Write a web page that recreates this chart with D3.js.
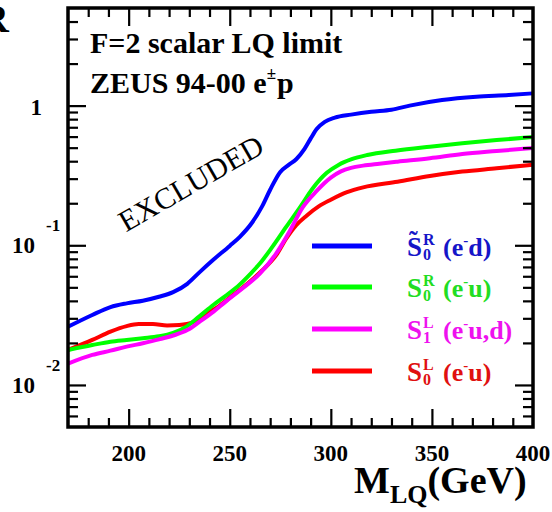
<!DOCTYPE html>
<html><head><meta charset="utf-8">
<script src="https://cdn.jsdelivr.net/npm/d3@7"></script>
<style>
html,body{margin:0;padding:0;background:#fff;}
svg{display:block;}
text{font-family:"Liberation Serif","Times New Roman",serif;}
</style></head>
<body>
<svg id="chart" width="552" height="512"></svg>
<script>
// ---- data ----
const xDomain = [170, 400];
const yDomain = [0.005, 5];
const xMajorTicks = [200, 250, 300, 350, 400];
const yMajorTicks = [0.01, 0.1, 1];
const yTickLabels = [["10", "-2"], ["10", "-1"], ["1", ""]];

const seriesColors = ["#0000ff", "#00ff00", "#ff00ff", "#ff0000"];

const blueS0Rtilde = [[170,0.0261],[182,0.0317],[191,0.0361],[199,0.0384],[207,0.0401],[215,0.0428],[222,0.0462],[229,0.053],[235,0.064],[242,0.079],[250,0.099],[255,0.115],[261,0.145],[266,0.19],[270,0.25],[275,0.335],[279,0.375],[283,0.415],[287,0.49],[290,0.58],[293,0.68],[297,0.765],[302,0.82],[310,0.862],[320,0.905],[330,0.935],[339,1.0],[355,1.096],[372,1.158],[388,1.19],[400,1.224]];
const greenS0R = [[170,0.0178],[182,0.0193],[191,0.0204],[199,0.0210],[207,0.0216],[215,0.0223],[222,0.0236],[229,0.0264],[235,0.031],[242,0.0375],[248,0.0435],[255,0.0525],[260,0.062],[265,0.0743],[271,0.097],[278,0.136],[285,0.189],[291,0.255],[298,0.33],[304,0.378],[310,0.412],[318,0.443],[332,0.476],[349,0.508],[365,0.537],[382,0.567],[400,0.595]];
const magentaS1L = [[170,0.0142],[182,0.0164],[191,0.0176],[199,0.0188],[207,0.0199],[215,0.0212],[222,0.0226],[229,0.0247],[235,0.0283],[242,0.0335],[248,0.0395],[255,0.0475],[265,0.063],[273,0.0876],[280,0.129],[286,0.186],[293,0.245],[300,0.305],[305,0.338],[310,0.358],[316,0.372],[324,0.384],[333,0.397],[349,0.42],[365,0.45],[382,0.473],[400,0.497]];
const redS0L = [[170,0.0178],[182,0.021],[191,0.0241],[199,0.0264],[205,0.0273],[212,0.0273],[219,0.0267],[225,0.0269],[232,0.0282],[238,0.032],[245,0.037],[252,0.0445],[260,0.055],[266,0.066],[273,0.085],[278,0.112],[283,0.14],[288,0.163],[294,0.19],[300,0.212],[308,0.24],[316,0.26],[333,0.285],[349,0.313],[365,0.337],[382,0.356],[400,0.378]];

const legendLabels = [
  {tilde:true,  sup:"R", sub:"0", pre:"(e", post:"d)"},
  {tilde:false, sup:"R", sub:"0", pre:"(e", post:"u)"},
  {tilde:false, sup:"L", sub:"1", pre:"(e", post:"u,d)"},
  {tilde:false, sup:"L", sub:"0", pre:"(e", post:"u)"}
];
const legendColors = ["#1515c8", "#22dd22", "#ee11ee", "#e01010"];

// ---- layout ----
const L = 68, R = 533, T = 8, B = 427;
const svg = d3.select("#chart");
const x = d3.scaleLinear().domain(xDomain).range([L, R]);
const y = d3.scaleLog().domain(yDomain).range([B, T]);

svg.append("clipPath").attr("id","clip").append("rect")
  .attr("x", L).attr("y", T).attr("width", R-L).attr("height", B-T);

// curves
const line = d3.line().x(d => x(d[0])).y(d => y(d[1])).curve(d3.curveMonotoneX);
const drawOrder = [[redS0L, 3], [greenS0R, 1], [magentaS1L, 2], [blueS0Rtilde, 0]];
const gCurves = svg.append("g").attr("clip-path","url(#clip)");
drawOrder.forEach(([data, ci]) => {
  gCurves.append("path").datum(data)
    .attr("d", line).attr("fill","none")
    .attr("stroke", seriesColors[ci]).attr("stroke-width", 4)
    .attr("stroke-linejoin","round").attr("stroke-linecap","round");
});

// ticks
const xMinor = d3.range(180, 400, 10).filter(v => !xMajorTicks.includes(v));
const yMinor = [];
[0.001, 0.01, 0.1, 1].forEach(dec => { for (let k = 2; k <= 9; k++) { const v = dec*k; if (v > yDomain[0]*1.0001 && v < yDomain[1]*0.9999 && !yMajorTicks.some(t=>Math.abs(t-v)<1e-9)) yMinor.push(v); } });

function axisG(axis, tx, ty) {
  const g = svg.append("g").attr("transform", `translate(${tx},${ty})`).call(axis);
  g.select(".domain").remove();
  g.selectAll("text").remove();
  g.selectAll("line").attr("stroke","#000").attr("stroke-width",2.2);
  return g;
}
axisG(d3.axisBottom(x).tickValues(xMajorTicks.filter(v=>v<400)).tickSize(-18).tickFormat(""), 0, B);
axisG(d3.axisBottom(x).tickValues(xMinor).tickSize(-9).tickFormat(""), 0, B);
axisG(d3.axisTop(x).tickValues(xMajorTicks.filter(v=>v<400)).tickSize(-18).tickFormat(""), 0, T);
axisG(d3.axisTop(x).tickValues(xMinor).tickSize(-9).tickFormat(""), 0, T);
axisG(d3.axisLeft(y).tickValues(yMajorTicks).tickSize(-18).tickFormat(""), L, 0);
axisG(d3.axisLeft(y).tickValues(yMinor).tickSize(-10).tickFormat(""), L, 0);
axisG(d3.axisRight(y).tickValues(yMajorTicks).tickSize(-18).tickFormat(""), R, 0);
axisG(d3.axisRight(y).tickValues(yMinor).tickSize(-10).tickFormat(""), R, 0);

svg.append("rect").attr("x", L).attr("y", T).attr("width", R-L).attr("height", B-T)
  .attr("fill","none").attr("stroke","#000").attr("stroke-width",3.5);

// x tick labels
svg.append("g").selectAll("text").data(xMajorTicks).join("text")
  .attr("x", d => x(d)).attr("y", 461).attr("text-anchor","middle")
  .attr("font-size", 23).attr("font-weight","bold").text(d => d);

// y tick labels
yMajorTicks.forEach((v, i) => {
  const [base, exp] = yTickLabels[i];
  const yy = y(v);
  if (exp === "") {
    svg.append("text").attr("x", 42).attr("y", yy + 9.5).attr("text-anchor","end")
      .attr("font-size", 23).attr("font-weight","bold").text(base);
  } else {
    const t = svg.append("text").attr("x", 12).attr("y", yy + 8)
      .attr("font-size", 23).attr("font-weight","bold");
    t.append("tspan").text(base);
    t.append("tspan").attr("font-size", 17).attr("dx", 11).attr("dy", -22).text(exp);
  }
});

// axis titles
const xt = svg.append("text").attr("x", 354).attr("y", 493)
  .attr("font-size", 38).attr("font-weight","bold");
xt.append("tspan").text("M");
xt.append("tspan").attr("font-size", 26).attr("dy", 10).text("LQ");
xt.append("tspan").attr("dy", -10).text("(GeV)");

svg.append("text").attr("x", -20).attr("y", 32)
  .attr("font-size", 40).attr("font-weight","bold").text("R");

// header text
svg.append("text").attr("x", 90).attr("y", 53).attr("font-size", 30).attr("font-weight","bold")
  .text("F=2 scalar LQ limit");
const t2 = svg.append("text").attr("x", 90).attr("y", 93).attr("font-size", 30).attr("font-weight","bold");
t2.append("tspan").text("ZEUS 94-00 e");
t2.append("tspan").attr("font-size", 17).attr("dy", -14).text("±");
t2.append("tspan").attr("dy", 14).attr("dx", 1).text("p");

// EXCLUDED
svg.append("text").attr("transform", "translate(196,192) rotate(-30)")
  .attr("text-anchor","middle").attr("font-size", 30).text("EXCLUDED");

// legend
const legendY = [246, 287, 329, 371];
legendLabels.forEach((lab, i) => {
  const ly = legendY[i];
  svg.append("line").attr("x1", 312).attr("x2", 372).attr("y1", ly).attr("y2", ly)
    .attr("stroke", seriesColors[i]).attr("stroke-width", 5);
  const base = ly + 10;
  const t = svg.append("text").attr("x", 407).attr("y", base)
    .attr("fill", legendColors[i]).attr("font-weight","bold").attr("font-size", 27);
  t.append("tspan").text("S");
  t.append("tspan").attr("x", 423).attr("y", base - 11).attr("font-size", 16).text(lab.sup);
  t.append("tspan").attr("x", 423).attr("y", base + 4).attr("font-size", 16).text(lab.sub);
  t.append("tspan").attr("x", 443).attr("y", base).attr("font-size", 26).text(lab.pre);
  t.append("tspan").attr("y", base - 11).attr("font-size", 15).text("-");
  t.append("tspan").attr("y", base).attr("font-size", 26).text(lab.post);
  if (lab.tilde) t.append("tspan").attr("x", 409).attr("y", base - 7).attr("font-size", 26).text("\u02DC");
});
</script>
</body></html>
